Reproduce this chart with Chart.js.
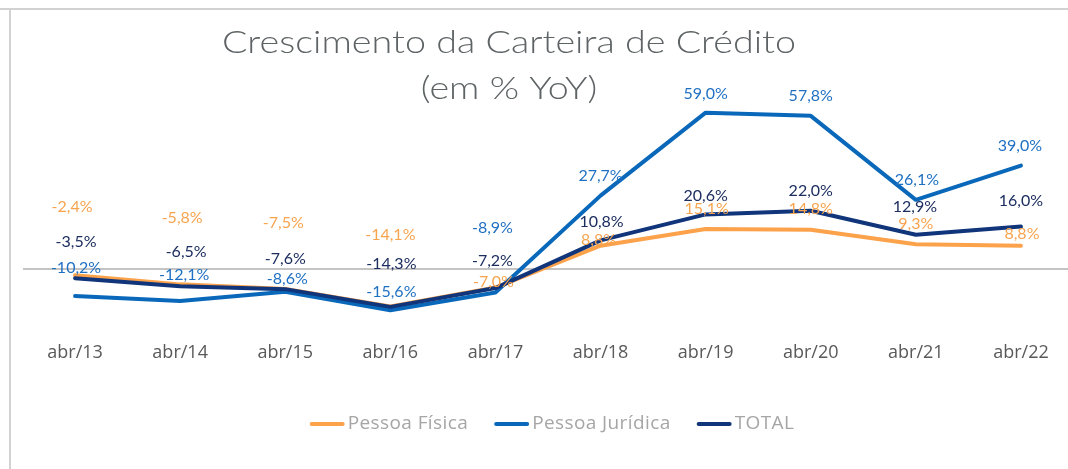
<!DOCTYPE html>
<html>
<head>
<meta charset="utf-8">
<script src="https://cdn.jsdelivr.net/npm/chart.js@4/dist/chart.umd.min.js"></script>
<style>
    html, body { margin: 0; padding: 0; background: #fff; overflow: hidden; }
    #wrap { position: relative; width: 1080px; height: 469px; }
</style>
</head>
<body>
<div id="wrap"><canvas id="myChart"></canvas></div>
<script>
// valores (% YoY)
const categories = ['abr/13', 'abr/14', 'abr/15', 'abr/16', 'abr/17', 'abr/18', 'abr/19', 'abr/20', 'abr/21', 'abr/22'];
const pessoaFisica = [-2.4, -5.8, -7.5, -14.1, -7.0, 8.8, 15.1, 14.8, 9.3, 8.8];
const pessoaJuridica = [-10.2, -12.1, -8.6, -15.6, -8.9, 27.7, 59.0, 57.8, 26.1, 39.0];
const total = [-3.5, -6.5, -7.6, -14.3, -7.2, 10.8, 20.6, 22.0, 12.9, 16.0];
const titleLines = ['Crescimento da Carteira de Crédito', '(em % YoY)'];

const FONT = 'Lato';
const WIDE = '"Open Sans"';

function fmt(v) {
    return v.toFixed(1).replace('.', ',') + '%';
}

// rótulos de dados, com o deslocamento que o Excel usou em cada ponto
const dataLabels = {
    id: 'dataLabels',
    afterDatasetsDraw(chart) {
        const ctx = chart.ctx;
        ctx.save();
        ctx.font = '16px ' + FONT;
        ctx.textAlign = 'center';
        ctx.textBaseline = 'middle';
        chart.data.datasets.forEach((ds, i) => {
            const meta = chart.getDatasetMeta(i);
            ctx.fillStyle = ds.labelColor;
            meta.data.forEach((pt, j) => {
                ctx.fillText(fmt(ds.data[j]), pt.x + ds.labelDx[j], pt.y + ds.labelDy[j]);
            });
        });
        ctx.restore();
    }
};

// moldura, título e legenda
const decor = {
    id: 'decor',
    beforeDraw(chart) {
        const ctx = chart.ctx;
        ctx.save();
        ctx.fillStyle = '#d2d2d2';
        ctx.fillRect(0, 8, chart.width, 2);
        ctx.fillRect(9, 8, 2, chart.height);
        ctx.restore();
    },
    afterDraw(chart) {
        const ctx = chart.ctx;
        ctx.save();
        ctx.fillStyle = '#5e6365';
        ctx.textAlign = 'center';
        ctx.textBaseline = 'alphabetic';
        ctx.font = '300 32px ' + FONT;
        // a fonte original é mais larga: alarga o título na horizontal
        const sx = 574 / ctx.measureText(titleLines[0]).width;
        ctx.save();
        ctx.translate(509, 0);
        ctx.scale(sx, 1);
        ctx.fillText(titleLines[0], 0, 53);
        ctx.fillText(titleLines[1], 0, 99);
        ctx.restore();

        // legenda na ordem original
        const items = [2, 1, 0].map(i => chart.data.datasets[i]);
        ctx.font = '19px ' + WIDE;
        ctx.letterSpacing = '0.4px';
        ctx.textAlign = 'left';
        ctx.textBaseline = 'middle';
        const lineLen = 35, gap = 3, sep = 26;
        let w = 0;
        items.forEach((ds, k) => {
            w += lineLen + gap + ctx.measureText(ds.label).width + (k < items.length - 1 ? sep : 0);
        });
        let x = 552 - w / 2;
        const y = 424;
        items.forEach(ds => {
            ctx.strokeStyle = ds.borderColor;
            ctx.lineWidth = 4;
            ctx.lineCap = 'round';
            ctx.beginPath();
            ctx.moveTo(x + 2, y);
            ctx.lineTo(x + lineLen - 2, y);
            ctx.stroke();
            x += lineLen + gap;
            ctx.fillStyle = '#a6a6a6';
            ctx.fillText(ds.label, x, y);
            x += ctx.measureText(ds.label).width + sep;
        });
        ctx.restore();
    }
};

const lineCommon = {
    borderWidth: 4,
    pointRadius: 0,
    pointHoverRadius: 0,
    tension: 0,
    fill: false,
    borderCapStyle: 'round',
    borderJoinStyle: 'round'
};

new Chart(document.getElementById('myChart').getContext('2d'), {
    type: 'line',
    data: {
        labels: categories,
        datasets: [{
            ...lineCommon,
            label: 'TOTAL',
            data: total,
            borderColor: '#10357a',
            labelColor: '#1c2d60',
            labelDx: [1, 6, 0, 1, -3, 1, 0, 0, -1, 0],
            labelDy: [-36, -34, -30, -43, -27, -19, -19, -20, -28, -26],
            order: 0
        }, {
            ...lineCommon,
            label: 'Pessoa Jurídica',
            data: pessoaJuridica,
            borderColor: '#0a68ba',
            labelColor: '#1f70c2',
            labelDx: [1, 4, 2, 1, -3, 0, 0, 0, 1, -1],
            labelDy: [-28, -26, -13, -18, -65, -20, -19, -20, -20, -20],
            order: 1
        }, {
            ...lineCommon,
            label: 'Pessoa Física',
            data: pessoaFisica,
            borderColor: '#fba24b',
            labelColor: '#f7a44f',
            labelDx: [-3, 2, -2, 0, -2, -2, 1, 0, 0, 1],
            labelDy: [-69, -67, -66, -72, -6, -6, -20, -21, -21, -12],
            order: 2
        }]
    },
    options: {
        responsive: true,
        maintainAspectRatio: false,
        animation: false,
        layout: {
            padding: { top: 83.5, left: 22.5, right: 6.5, bottom: 93.75 }
        },
        plugins: {
            legend: { display: false },
            title: { display: false },
            tooltip: { enabled: false }
        },
        scales: {
            x: {
                offset: true,
                grid: { display: false, drawTicks: false },
                border: { display: false },
                ticks: {
                    color: '#595959',
                    font: { family: WIDE, size: 18 },
                    padding: 7,
                    maxRotation: 0,
                    autoSkip: false
                },
                afterFit(s) { s.height = 40; }
            },
            y: {
                min: -25,
                max: 70,
                grid: {
                    drawTicks: false,
                    lineWidth: 2,
                    color: c => (c.tick && c.tick.value === 0) ? '#c4c4c4' : 'rgba(0,0,0,0)'
                },
                border: { display: false },
                ticks: { display: false, stepSize: 5 },
                afterFit(s) { s.width = 0; }
            }
        }
    },
    plugins: [decor, dataLabels]
});
</script>
</body>
</html>
